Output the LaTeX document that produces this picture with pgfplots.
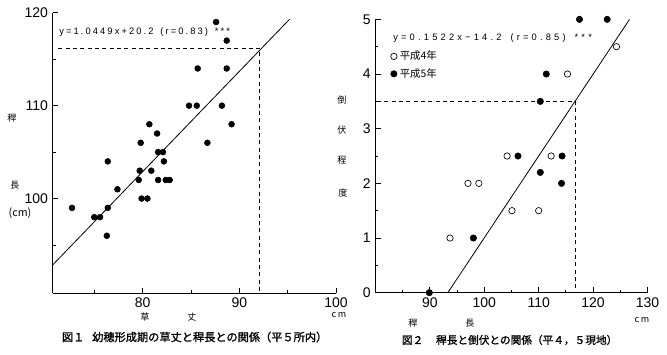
\documentclass[border=0pt]{standalone}
\usepackage{fontspec}
\usepackage{pgfplots}
\pgfplotsset{compat=1.18}
\setmainfont{Liberation Sans}
\newfontfamily\jp{Noto Sans CJK JP}
\newfontfamily\jpb{Noto Sans CJK JP}[FakeBold=1.2]
\makeatletter
\newcommand\spreadout[2]{\makebox[#1][s]{\def\sp@sep{}\@tfor\sp@x:=#2\do{\sp@sep\sp@x\def\sp@sep{\hfil}}}}
\makeatother
\begin{document}
\begin{tikzpicture}
\path[use as bounding box] (0,0) rectangle (500.25pt,265.5pt);
\pgfplotsset{
  myax/.style={
    scale only axis, anchor=south west,
    axis lines*=left,
    axis line style={line width=0.8pt},
    tick align=inside,
    major tick length=4pt, minor tick length=2.2pt,
    tick style={black, line width=0.6pt},
    tick label style={font=\fontsize{10.5}{10.5}\selectfont},
    /pgf/number format/assume math mode=true,
    clip=false,
  }
}
% ---------------- left chart
\begin{axis}[myax, at={(39.5pt,45.5pt)}, width=212.5pt, height=210.45pt,
  xmin=70.7, xmax=100, ymin=89.8, ymax=120,
  xtick={80,90,100}, minor xtick={75,85,95},
  ytick={100,110,120}, minor ytick={95,105,115}]
\addplot[only marks, mark=*, mark size=2.2pt, black] coordinates {
(87.6,119)(88.7,117)(85.7,114)(88.7,114)(84.8,110)(85.6,110)(88.2,110)
(89.2,108)(80.7,108)(81.5,107)(79.8,106)(86.7,106)(81.6,105)(82.1,105)
(82.2,104)(76.4,104)(79.7,103)(80.9,103)(79.6,102)(81.6,102)(82.4,102)
(82.8,102)(77.4,101)(79.9,100)(80.5,100)(72.7,99)(76.4,99)(75.0,98)
(75.6,98)(76.3,96)};
\addplot[black, line width=0.6pt] coordinates {(70.7,92.85)(95.2,119.3)};
\addplot[black, line width=0.6pt, dash pattern=on 3pt off 2.5pt] coordinates {(71.3,116.2)(92.1,116.2)(92.1,89.8)};
\end{axis}
% ---------------- right chart
\begin{axis}[myax, at={(281.6pt,45.98pt)}, width=204pt, height=205pt,
  xmin=80, xmax=130, ymin=0, ymax=5,
  xtick={90,100,...,130}, minor xtick={85,95,...,125},
  ytick={0,...,5}, minor ytick={0.5,1.5,...,4.5},
  legend style={at={(axis description cs:0.055,0.895)}, anchor=north west,
    draw=none, fill=none, inner sep=0pt, row sep=1pt,
    font=\jp\fontsize{7.8}{8.5}\selectfont},
  legend cell align=left]
\addplot[only marks, mark=o, mark size=2.4pt, black, line width=0.5pt] coordinates {
(124.3,4.5)(115.3,4)(104.2,2.5)(112.3,2.5)(97.0,2)(99.0,2)(105.1,1.5)(110.0,1.5)(93.7,1)};
\addlegendentry{平成4年}
\addplot[only marks, mark=*, mark size=2.4pt, black] coordinates {
(117.5,5)(122.6,5)(111.4,4)(110.3,3.5)(106.2,2.5)(114.3,2.5)(110.3,2.2)(114.2,2)(98.0,1)(89.9,0)};
\addlegendentry{平成5年}
\addplot[black, line width=0.6pt, forget plot] coordinates {(93.3,0)(126.7,5)};
\addplot[black, line width=0.6pt, dash pattern=on 3pt off 2.5pt, forget plot] coordinates {(80.3,3.5)(116.75,3.5)(116.75,0)};
\end{axis}
% ---------------- texts
\begin{scope}[x=0.75pt,y=-0.75pt,shift={(0pt,265.5pt)}]
\node[anchor=west, inner sep=0] at (59,31.7) {\fontsize{7}{7}\selectfont\spreadout{128pt}{y=1.0449x+20.2~(r=0.83)~***}};
\node[anchor=west, inner sep=0] at (393,38.3) {\fontsize{7}{7}\selectfont\spreadout{149pt}{y=0.1522x−14.2~(r=0.85)~***}};
\begin{scope}[font=\jp\fontsize{6.8}{6.8}\selectfont]
\node at (12,118) {稈};
\node at (15,185) {長};
\node[font=\jp\fontsize{8}{8}\selectfont] at (20,213) {(cm)};
\node at (145,317) {草};
\node at (192,317) {丈};
\node at (339,315) {c\,m};
\node at (342,100) {倒};
\node at (342,130) {伏};
\node at (342,160) {程};
\node at (343,193) {度};
\node at (413,323) {稈};
\node at (470,323) {長};
\node at (642,320) {c\,m};
\end{scope}
\node[anchor=west, inner sep=0] at (61.7,337) {\jpb\fontsize{8.4}{8.4}\selectfont 図１\hspace{0.7em}幼穂形成期の草丈と稈長との関係（平５所内）};
\node[anchor=west, inner sep=0] at (401.7,340) {\jpb\fontsize{8}{8}\selectfont 図２\hspace{1.2em}稈長と倒伏との関係（平４，５現地）};
\end{scope}
\end{tikzpicture}
\end{document}
